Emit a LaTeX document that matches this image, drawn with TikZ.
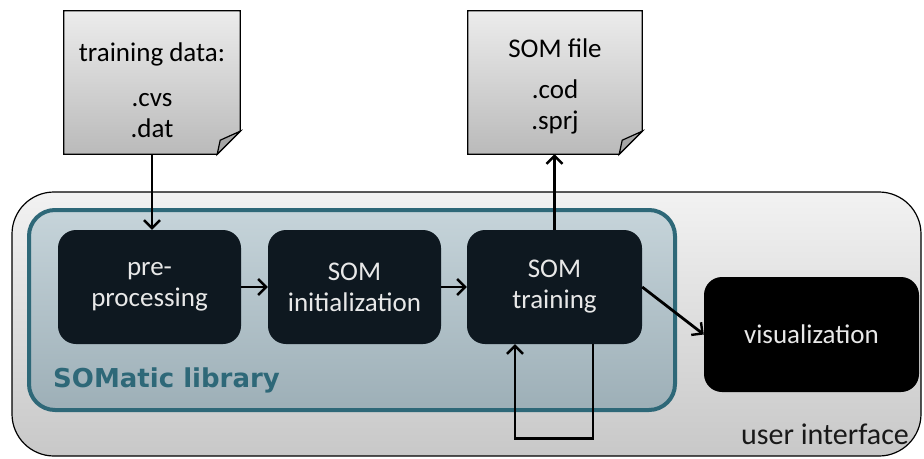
\documentclass[tikz,border=0pt]{standalone}
\usepackage{fontspec}
\setmainfont{Carlito}
\newfontfamily\libfont{DejaVu Sans}
\usetikzlibrary{arrows.meta}
\definecolor{boxdark}{RGB}{14,24,32}
\definecolor{boxtext}{RGB}{232,232,232}
\definecolor{libline}{RGB}{46,104,120}
\definecolor{libtop}{RGB}{198,212,218}
\definecolor{libbot}{RGB}{157,175,183}
\definecolor{uitop}{RGB}{242,242,242}
\definecolor{uibot}{RGB}{200,200,200}
\definecolor{doctop}{RGB}{236,236,236}
\definecolor{docbot}{RGB}{186,186,186}
\begin{document}
\begin{tikzpicture}[x=1pt,y=-1pt,
    bigfont/.style={font=\fontsize{27}{31}\selectfont},
    proc/.style={bigfont,fill=boxdark,text=boxtext,rounded corners=18pt,
      minimum height=114pt,align=center,inner sep=0pt},
    docbox/.style={minimum height=143pt,inner sep=0pt},
    docline/.style={draw=black,line width=1.2pt,top color=doctop,bottom color=docbot},
    flow/.style={line width=2.8pt,-{Straight Barb[length=8pt,width=16pt,line width=2.4pt]}}]
    \useasboundingbox (0,0) rectangle (924,458);
    % user interface and library frames
    \draw[rounded corners=42pt,top color=uitop,bottom color=uibot,line width=1.2pt] (12,192) rectangle (921,456);
    \draw[rounded corners=26pt,top color=libtop,bottom color=libbot,draw=libline,line width=4pt] (29,210) rectangle (675,410);
    \node[font=\libfont\fontsize{26}{30}\selectfont\bfseries,text=libline,anchor=west,inner sep=0pt] (liblabel) at (53,380) {SOMatic library};
    \node[font=\fontsize{30}{34}\selectfont,text=black!90] (uilabel) at (825,434) {user interface};
    % processing steps
    \node[proc,minimum width=183pt] (pre) at (149.5,287) {pre-\\processing};
    \node[proc,minimum width=173pt] (init) at (354.5,287) {SOM\\initialization};
    \node[proc,minimum width=175pt] (train) at (554.5,287) {SOM\\training};
    \node[proc,fill=black,minimum width=215pt,minimum height=115pt] (vis) at (811.5,334.5) {visualization};
    % files
    \node[docbox,minimum width=176pt] (data) at (152,82.5) {};
    \node[docbox,minimum width=174pt] (somfile) at (555,82.5) {};
    \foreach \d in {data,somfile} {
      \draw[docline] (\d.north west) -- (\d.north east) -- ([yshift=23pt]\d.south east)
        -- ([xshift=-23pt]\d.south east) -- (\d.south west) -- cycle;
      \draw[line width=1.2pt,fill=black!35] ([xshift=-23pt]\d.south east) -- ([xshift=-20pt,yshift=14pt]\d.south east)
        -- ([yshift=23pt]\d.south east) -- cycle;
    }
    \node[bigfont,align=center] (datatext) at (152,90) {training data:\\[14pt].cvs\\.dat};
    \node[bigfont,align=center] (somtext) at (555,86) {SOM file\\[10pt].cod\\.sprj};
    % connections
    \draw[flow] (data.south) -- (data.south |- pre.north);
    \draw[flow] (pre) -- (init);
    \draw[flow] (init) -- (train);
    \draw[flow] (train.north) -- (train.north |- somfile.south);
    \draw[flow] (train.east) -- (vis.west);
    \draw[flow] ([xshift=38.5pt]train.south) -- ++(0,94) -| ([xshift=-39.5pt]train.south);
\end{tikzpicture}
\end{document}
